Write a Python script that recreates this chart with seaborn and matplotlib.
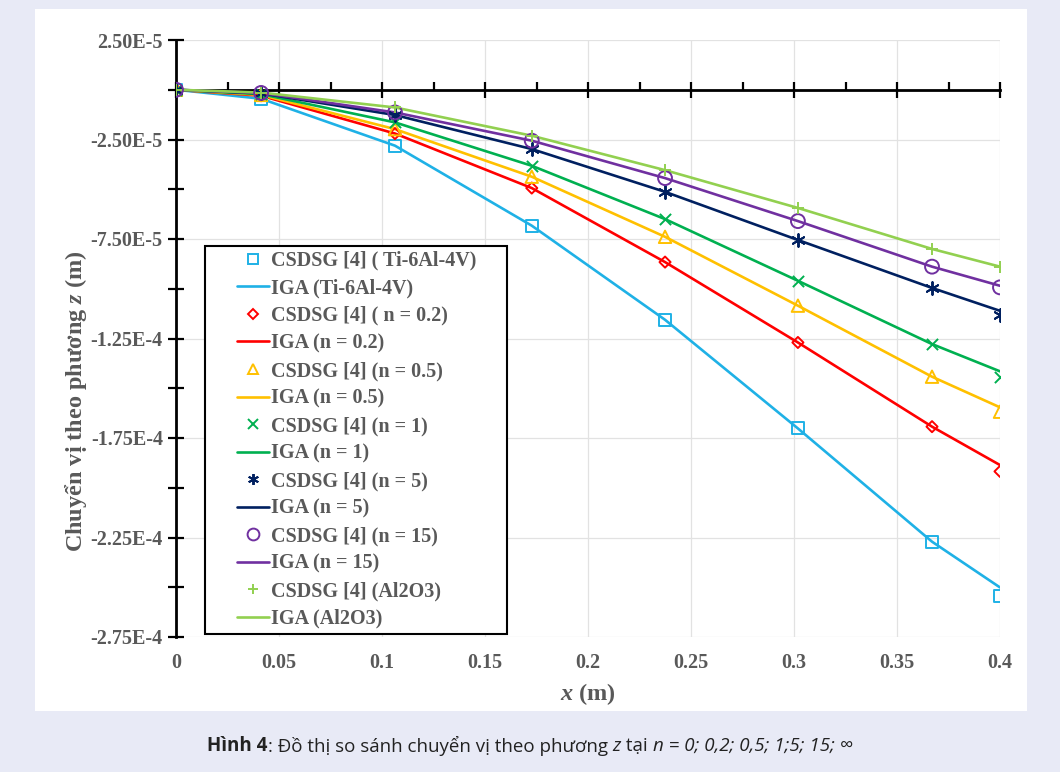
import matplotlib
matplotlib.use("Agg")
import matplotlib.pyplot as plt
import seaborn as sns
import pandas as pd
from matplotlib.lines import Line2D
from matplotlib.patches import Rectangle
from matplotlib.legend_handler import HandlerLine2D
from matplotlib.ticker import FixedLocator, MultipleLocator

# ---------------- data ----------------
x_nodes = [0.0, 0.0413, 0.1063, 0.1727, 0.2374, 0.3019, 0.367, 0.4]

csdsg_ti = [0.0, -0.045e-4, -0.281e-4, -0.683e-4, -1.156e-4, -1.702e-4, -2.271e-4, -2.546e-4]
iga_ti = [0.0, -0.045e-4, -0.281e-4, -0.683e-4, -1.156e-4, -1.702e-4, -2.271e-4, -2.501e-4]

csdsg_n02 = [0.0, -0.030e-4, -0.220e-4, -0.494e-4, -0.866e-4, -1.270e-4, -1.693e-4, -1.918e-4]
iga_n02 = [0.0, -0.030e-4, -0.220e-4, -0.494e-4, -0.866e-4, -1.270e-4, -1.693e-4, -1.886e-4]

csdsg_n05 = [0.0, -0.026e-4, -0.198e-4, -0.437e-4, -0.739e-4, -1.085e-4, -1.442e-4, -1.618e-4]
iga_n05 = [0.0, -0.026e-4, -0.198e-4, -0.437e-4, -0.739e-4, -1.085e-4, -1.442e-4, -1.596e-4]

csdsg_n1 = [0.0, -0.022e-4, -0.164e-4, -0.382e-4, -0.650e-4, -0.960e-4, -1.278e-4, -1.441e-4]
iga_n1 = [0.0, -0.022e-4, -0.164e-4, -0.382e-4, -0.650e-4, -0.960e-4, -1.278e-4, -1.415e-4]

csdsg_n5 = [0.0, -0.018e-4, -0.127e-4, -0.298e-4, -0.513e-4, -0.755e-4, -0.996e-4, -1.131e-4]
iga_n5 = [0.0, -0.018e-4, -0.127e-4, -0.298e-4, -0.513e-4, -0.755e-4, -0.996e-4, -1.111e-4]

csdsg_n15 = [0.0, -0.016e-4, -0.114e-4, -0.256e-4, -0.444e-4, -0.660e-4, -0.889e-4, -0.993e-4]
iga_n15 = [0.0, -0.016e-4, -0.114e-4, -0.256e-4, -0.444e-4, -0.660e-4, -0.889e-4, -0.985e-4]

csdsg_al = [0.0, -0.014e-4, -0.089e-4, -0.231e-4, -0.404e-4, -0.594e-4, -0.800e-4, -0.893e-4]
iga_al = [0.0, -0.014e-4, -0.089e-4, -0.231e-4, -0.404e-4, -0.594e-4, -0.800e-4, -0.889e-4]

csdsg_labels = ["CSDSG [4] ( Ti-6Al-4V)", "CSDSG [4] ( n = 0.2)", "CSDSG [4] (n = 0.5)",
                "CSDSG [4] (n = 1)", "CSDSG [4] (n = 5)", "CSDSG [4] (n = 15)",
                "CSDSG [4] (Al2O3)"]
iga_labels = ["IGA (Ti-6Al-4V)", "IGA (n = 0.2)", "IGA (n = 0.5)", "IGA (n = 1)",
              "IGA (n = 5)", "IGA (n = 15)", "IGA (Al2O3)"]

y_major_ticks = [2.5e-5, -2.5e-5, -7.5e-5, -1.25e-4, -1.75e-4, -2.25e-4, -2.75e-4]
y_major_labels = ["2.50E-5", "-2.50E-5", "-7.50E-5", "-1.25E-4", "-1.75E-4", "-2.25E-4", "-2.75E-4"]
y_minor_ticks = [0.0, -5e-5, -1e-4, -1.5e-4, -2e-4, -2.5e-4]
x_ticks = [0, 0.05, 0.1, 0.15, 0.2, 0.25, 0.3, 0.35, 0.4]
x_tick_labels = ["0", "0.05", "0.1", "0.15", "0.2", "0.25", "0.3", "0.35", "0.4"]

# ---------------- style ----------------
sns.set_theme(style="white")
plt.rcParams["font.family"] = ["Liberation Serif", "DejaVu Serif"]
plt.rcParams["mathtext.fontset"] = "custom"
plt.rcParams["mathtext.it"] = "Liberation Serif:italic:bold"
plt.rcParams["mathtext.rm"] = "Liberation Serif:bold"

GRAY = "#595959"
colors = ["#1fb1e6", "#ff0000", "#ffc000", "#00b050", "#002060", "#7030a0", "#92d050"]
markers = ["s", "D", "^", "x", (6, 2, 0), "o", "+"]
msizes = [75, 32, 80, 65, 85, 100, 75]
filled = [True, True, True, False, False, True, False]

csdsg_all = [csdsg_ti, csdsg_n02, csdsg_n05, csdsg_n1, csdsg_n5, csdsg_n15, csdsg_al]
iga_all = [iga_ti, iga_n02, iga_n05, iga_n1, iga_n5, iga_n15, iga_al]

W, H = 1060, 772
fig = plt.figure(figsize=(W / 100, H / 100), dpi=100, facecolor="#e8eaf6")
fig.patches.append(Rectangle((35 / W, 1 - 711 / H), 992 / W, 702 / H,
                             transform=fig.transFigure, facecolor="white",
                             edgecolor="none", zorder=-10))
ax = fig.add_axes([176 / W, 1 - 637 / H, 824 / W, 597 / H])
ax.set_facecolor("white")
ax.set_zorder(1)

for i in range(7):
    df_l = pd.DataFrame({"x": x_nodes, "y": iga_all[i]})
    sns.lineplot(data=df_l, x="x", y="y", ax=ax, color=colors[i], linewidth=1.9,
                 zorder=3, legend=False, sort=False)
for i in range(7):
    df_m = pd.DataFrame({"x": x_nodes, "y": csdsg_all[i]})
    if filled[i]:
        sns.scatterplot(data=df_m, x="x", y="y", ax=ax, marker=markers[i], s=msizes[i],
                        facecolor="none", edgecolor=colors[i], linewidth=1.4,
                        zorder=4, legend=False)
    else:
        sns.scatterplot(data=df_m, x="x", y="y", ax=ax, marker=markers[i], s=msizes[i],
                        color=colors[i], linewidth=1.4, zorder=4, legend=False)

ax.set_xlim(0, 0.4)
ax.set_ylim(-2.75e-4, 2.5e-5)

# y axis
ax.yaxis.set_major_locator(FixedLocator(y_major_ticks))
ax.set_yticklabels(y_major_labels)
ax.yaxis.set_minor_locator(FixedLocator(y_minor_ticks))
ax.tick_params(axis="y", which="both", direction="inout", length=11, width=1.6,
               color="black", labelsize=14.5, labelcolor=GRAY, pad=4, left=True)
for lab in ax.get_yticklabels():
    lab.set_fontweight("bold")

# x axis: labels at bottom, axis line at y=0 (top spine moved)
ax.set_xticks(x_ticks)
ax.set_xticklabels(x_tick_labels)
ax.xaxis.set_minor_locator(MultipleLocator(0.025))
ax.spines["bottom"].set_visible(False)
ax.spines["right"].set_visible(False)
ax.spines["top"].set_position(("data", 0))
ax.spines["top"].set_linewidth(2)
ax.spines["top"].set_color("black")
ax.spines["left"].set_linewidth(2)
ax.spines["left"].set_color("black")
ax.tick_params(axis="x", which="major", bottom=False, top=True, labelbottom=True,
               labeltop=False, direction="inout", length=11, width=1.6, color="black",
               labelsize=14.5, labelcolor=GRAY, pad=6)
ax.tick_params(axis="x", which="minor", bottom=False, top=True, direction="out",
               length=6, width=1.6, color="black")
for lab in ax.get_xticklabels():
    lab.set_fontweight("bold")

ax.grid(True, which="major", color="#e2e2e2", linewidth=0.9, zorder=0)
ax.set_axisbelow(True)

ax.set_xlabel(r"$\mathit{x}$ (m)", fontsize=17.5, fontweight="bold", color=GRAY, labelpad=6)
ax.set_ylabel(r"Chuyển vị theo phương $\mathit{z}$ (m)", fontsize=17.5, fontweight="bold",
              color=GRAY)
ax.yaxis.set_label_coords(-0.106, 0.395)


# legend handler: handle drawn in the right part of the handle box
class RightHandler(HandlerLine2D):
    def __init__(self, frac=0.46, **kw):
        super().__init__(**kw)
        self.frac = frac

    def create_artists(self, legend, orig_handle, xdescent, ydescent, width, height,
                       fontsize, trans):
        shift = width * self.frac
        return super().create_artists(legend, orig_handle, xdescent - shift, ydescent,
                                      width - shift, height, fontsize, trans)


handles, labels = [], []
for i in range(7):
    if filled[i]:
        h = Line2D([], [], linestyle="none", marker=markers[i], markersize=msizes[i] ** 0.5 * 0.85,
                   markerfacecolor="none", markeredgecolor=colors[i], markeredgewidth=1.4)
    else:
        h = Line2D([], [], linestyle="none", marker=markers[i], markersize=msizes[i] ** 0.5 * 0.85,
                   color=colors[i], markeredgewidth=1.4)
    handles.append(h)
    labels.append(csdsg_labels[i])
    handles.append(Line2D([], [], color=colors[i], linewidth=1.9))
    labels.append(iga_labels[i])

leg_x0 = (205 - 176) / 824
leg_w = (507 - 205) / 824
leg = ax.legend(handles, labels, loc="lower left",
                bbox_to_anchor=(leg_x0, 0.005, leg_w, 0.1), mode="expand",
                borderaxespad=0, frameon=True, fancybox=False, framealpha=1,
                edgecolor="black", labelcolor=GRAY, handlelength=2.93, handletextpad=0.1,
                labelspacing=0.375, borderpad=0.25,
                handler_map={Line2D: RightHandler(frac=0.46)},
                prop={"family": "Liberation Serif", "weight": "bold", "size": 14.5})
leg.get_frame().set_linewidth(1.5)
leg.set_zorder(10)

# caption
fig.canvas.draw()
renderer = fig.canvas.get_renderer()
cap_parts = [("Hình 4", "bold", "normal"), (": Đồ thị so sánh chuyển vị theo phương ", "normal", "normal"),
             ("z", "normal", "italic"), (" tại ", "normal", "normal"),
             ("n = 0; 0,2; 0,5; 1;5; 15; ∞", "normal", "italic")]
texts = []
for s, wgt, sty in cap_parts:
    t = fig.text(0, 1 - 746 / H, s, fontsize=13.5, fontweight=wgt, fontstyle=sty,
                 family=["Open Sans", "DejaVu Sans"], color="#222222", va="center", ha="left")
    texts.append(t)
widths = [t.get_window_extent(renderer).width for t in texts]
total = sum(widths)
x0 = (W / 2 - total / 2)
for t, w in zip(texts, widths):
    t.set_x(x0 / W)
    x0 += w

fig.savefig("out.png", dpi=100, facecolor=fig.get_facecolor())
